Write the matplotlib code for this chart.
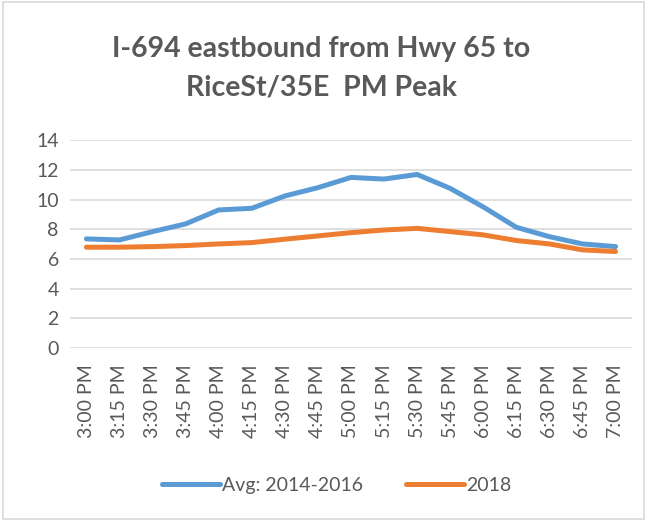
import matplotlib
matplotlib.use("Agg")
import matplotlib.pyplot as plt
from matplotlib.patches import Rectangle

times = ["3:00 PM", "3:15 PM", "3:30 PM", "3:45 PM", "4:00 PM", "4:15 PM", "4:30 PM",
         "4:45 PM", "5:00 PM", "5:15 PM", "5:30 PM", "5:45 PM", "6:00 PM", "6:15 PM",
         "6:30 PM", "6:45 PM", "7:00 PM"]
avg_2014_2016 = [7.35, 7.28, 7.84, 8.36, 9.30, 9.41, 10.24, 10.80, 11.49, 11.38, 11.69,
                 10.75, 9.50, 8.13, 7.50, 7.01, 6.83]
y2018 = [6.79, 6.79, 6.83, 6.90, 7.01, 7.10, 7.33, 7.55, 7.77, 7.95, 8.06,
         7.84, 7.62, 7.24, 7.01, 6.61, 6.50]
yticks = [0, 2, 4, 6, 8, 10, 12, 14]

plt.rcParams['font.family'] = ['Lato', 'DejaVu Sans']
fig = plt.figure(figsize=(6.47, 5.21), dpi=100)
ax = fig.add_axes([0.108, 0.332, 0.869, 0.399])

x = list(range(len(times)))
ax.plot(x, avg_2014_2016, color="#5b9bd5", lw=3.6, solid_capstyle="round",
        solid_joinstyle="round", label="Avg: 2014-2016", zorder=3)
ax.plot(x, y2018, color="#ed7d31", lw=3.6, solid_capstyle="round",
        solid_joinstyle="round", label="2018", zorder=3)

ax.set_xlim(-0.5, len(times) - 0.5)
ax.set_ylim(0, 14)
ax.set_yticks(yticks)
ax.set_yticklabels([str(v) for v in yticks])
ax.set_xticks(x)
ax.set_xticklabels(times, rotation=90)
ax.tick_params(axis="both", length=0, labelsize=14, colors="#595959")
ax.tick_params(axis="x", pad=12)
ax.tick_params(axis="y", pad=8)
ax.grid(axis="y", color="#d9d9d9", lw=1.2)
ax.set_axisbelow(True)
for s in ax.spines.values():
    s.set_visible(False)

fig.text(0.497, 0.905, "I-694 eastbound from Hwy 65 to", ha="center", va="center",
         fontsize=20.5, fontweight="bold", color="#595959")
fig.text(0.497, 0.832, "RiceSt/35E  PM Peak", ha="center", va="center",
         fontsize=20.5, fontweight="bold", color="#595959")

leg = fig.legend(loc="center", bbox_to_anchor=(0.52, 0.068), ncol=2, frameon=False,
                 fontsize=14, handlelength=3.0, handletextpad=0.1, columnspacing=2.2)
for t in leg.get_texts():
    t.set_color("#595959")

fig.patches.append(Rectangle((0.004, 0.004), 0.992, 0.992, transform=fig.transFigure,
                             fill=False, edgecolor="#d9d9d9", lw=1.2))

fig.savefig("out.png", dpi=100, facecolor="white")
